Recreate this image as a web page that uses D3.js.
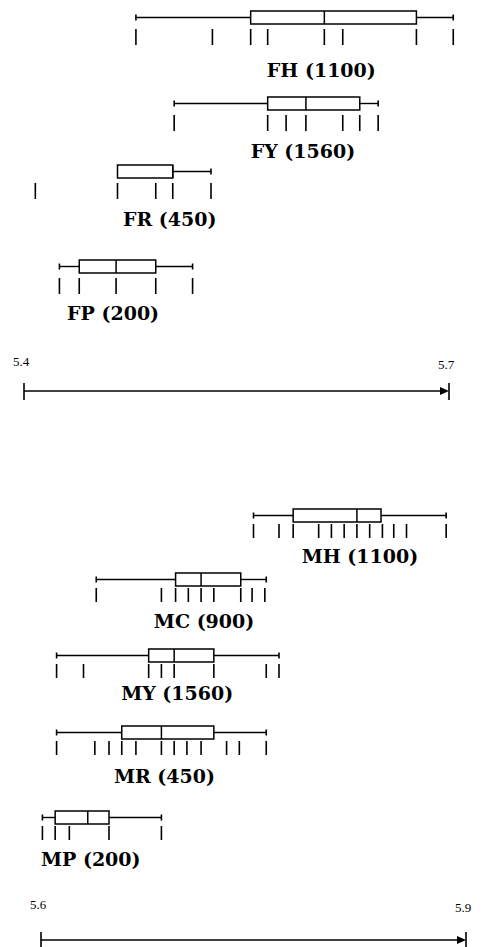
<!DOCTYPE html>
<html>
<head>
<meta charset="utf-8">
<script src="https://cdn.jsdelivr.net/npm/d3@7/dist/d3.min.js"></script>
<style>
  html, body { margin: 0; padding: 0; background: #fff; }
  svg { display: block; }
</style>
</head>
<body>
<div id="chart"></div>
<script>
// ---- data: top panel (F groups) ----
const topGroups = ["FH", "FY", "FR", "FP"];
const topCounts = [1100, 1560, 450, 200];
const topDomain = [5.4, 5.7];
// [low whisker, q1, median, q3, high whisker]
const topBoxes = [
  [5.479, 5.560, 5.612, 5.677, 5.703],
  [5.506, 5.572, 5.599, 5.637, 5.650],
  [5.466, 5.466, 5.505, 5.505, 5.532],
  [5.425, 5.439, 5.465, 5.493, 5.519]
];
const topTicks = [
  [5.479, 5.533, 5.560, 5.572, 5.612, 5.625, 5.677, 5.703],
  [5.506, 5.572, 5.585, 5.599, 5.625, 5.637, 5.650],
  [5.408, 5.466, 5.493, 5.505, 5.532],
  [5.425, 5.439, 5.465, 5.493, 5.519]
];

// ---- data: bottom panel (M groups) ----
const botGroups = ["MH", "MC", "MY", "MR", "MP"];
const botCounts = [1100, 900, 1560, 450, 200];
const botDomain = [5.6, 5.9];
const botBoxes = [
  [5.750, 5.778, 5.823, 5.840, 5.886],
  [5.639, 5.695, 5.713, 5.741, 5.759],
  [5.611, 5.676, 5.694, 5.722, 5.768],
  [5.611, 5.657, 5.685, 5.722, 5.759],
  [5.601, 5.610, 5.633, 5.648, 5.685]
];
const botTicks = [
  [5.750, 5.768, 5.778, 5.796, 5.805, 5.814, 5.823, 5.832, 5.841, 5.849, 5.858, 5.886],
  [5.639, 5.685, 5.695, 5.704, 5.713, 5.722, 5.741, 5.749, 5.758],
  [5.611, 5.630, 5.676, 5.685, 5.694, 5.722, 5.759, 5.768],
  [5.611, 5.638, 5.648, 5.657, 5.667, 5.685, 5.694, 5.703, 5.713, 5.731, 5.740, 5.759],
  [5.601, 5.610, 5.620, 5.648, 5.685]
];

const width = 484, height = 947;
const svg = d3.select("#chart").append("svg")
  .attr("width", width)
  .attr("height", height);

const labelFont = "'DejaVu Serif', serif";
const axisFont = "'Liberation Serif', 'Times New Roman', serif";

function drawPanel(opts) {
  const x = d3.scaleLinear().domain(opts.domain).range(opts.range);
  const boxH = 13;

  opts.groups.forEach(function(name, i) {
    const y0 = opts.rowY[i];
    const b = opts.boxes[i];
    const g = svg.append("g").attr("class", "row");
    const mid = y0 + boxH / 2;

    // whiskers
    g.append("line")
      .attr("x1", x(b[0])).attr("x2", x(b[1]))
      .attr("y1", mid).attr("y2", mid)
      .attr("stroke", "#000").attr("stroke-width", 1.4);
    g.append("line")
      .attr("x1", x(b[3])).attr("x2", x(b[4]))
      .attr("y1", mid).attr("y2", mid)
      .attr("stroke", "#000").attr("stroke-width", 1.4);
    // whisker caps
    [b[0], b[4]].forEach(function(v) {
      if (v === b[1] || v === b[3]) return;
      g.append("line")
        .attr("x1", x(v)).attr("x2", x(v))
        .attr("y1", mid - 3).attr("y2", mid + 3)
        .attr("stroke", "#000").attr("stroke-width", 1.6);
    });

    // box
    g.append("rect")
      .attr("x", x(b[1])).attr("y", y0)
      .attr("width", x(b[3]) - x(b[1])).attr("height", boxH)
      .attr("fill", "#fff").attr("stroke", "#000").attr("stroke-width", 1.5);
    g.append("line")
      .attr("x1", x(b[2])).attr("x2", x(b[2]))
      .attr("y1", y0).attr("y2", y0 + boxH)
      .attr("stroke", "#000").attr("stroke-width", 1.5);

    // tick marks under the box
    g.selectAll(".tick")
      .data(opts.ticks[i])
      .enter().append("line")
      .attr("class", "tick")
      .attr("x1", d => x(d)).attr("x2", d => x(d))
      .attr("y1", y0 + opts.tickOff).attr("y2", y0 + opts.tickOff + opts.tickLen)
      .attr("stroke", "#000").attr("stroke-width", 1.6);

    // label, centred roughly under the median
    g.append("text")
      .attr("x", x(b[2]) + opts.labelDx)
      .attr("y", y0 + opts.labelOff[i])
      .attr("text-anchor", "middle")
      .style("font-family", labelFont)
      .style("font-weight", "bold")
      .style("font-size", "19px")
      .text(name + " (" + opts.counts[i] + ")");
  });

  // scale bar
  const ax = svg.append("g").attr("class", "axis");
  const r0 = opts.range[0], r1 = opts.range[1], ay = opts.axisY;
  ax.append("line")
    .attr("x1", r0).attr("x2", r1 - 6)
    .attr("y1", ay).attr("y2", ay)
    .attr("stroke", "#000").attr("stroke-width", 1.5);
  ax.append("line")
    .attr("x1", r0).attr("x2", r0)
    .attr("y1", ay - 8).attr("y2", ay + 9)
    .attr("stroke", "#000").attr("stroke-width", 1.6);
  ax.append("line")
    .attr("x1", r1).attr("x2", r1)
    .attr("y1", ay - 8).attr("y2", ay + 9)
    .attr("stroke", "#000").attr("stroke-width", 1.6);
  ax.append("path")
    .attr("d", "M" + (r1 - 9) + "," + (ay - 4) + "L" + r1 + "," + ay + "L" + (r1 - 9) + "," + (ay + 4) + "Z")
    .attr("fill", "#000");

  ax.selectAll(".endlabel")
    .data(opts.domain)
    .enter().append("text")
    .attr("class", "endlabel")
    .attr("x", d => x(d) - 3)
    .attr("y", (d, i) => opts.axisLabelY + (i === 1 ? 3 : 0))
    .attr("text-anchor", "middle")
    .style("font-family", axisFont)
    .style("font-size", "13px")
    .text(d => d3.format(".1f")(d));
}

drawPanel({
  groups: topGroups, counts: topCounts, boxes: topBoxes, ticks: topTicks,
  domain: topDomain, range: [24, 449],
  rowY: [11, 97, 165, 260],
  tickOff: 18, tickLen: 16, labelOff: [66, 61, 61, 60], labelDx: -3,
  axisY: 391, axisLabelY: 366
});

drawPanel({
  groups: botGroups, counts: botCounts, boxes: botBoxes, ticks: botTicks,
  domain: botDomain, range: [41, 466],
  rowY: [509, 573, 649, 726, 811],
  tickOff: 15, tickLen: 14, labelOff: [54, 55, 51, 57, 55], labelDx: 3,
  axisY: 940, axisLabelY: 909
});
</script>
</body>
</html>
